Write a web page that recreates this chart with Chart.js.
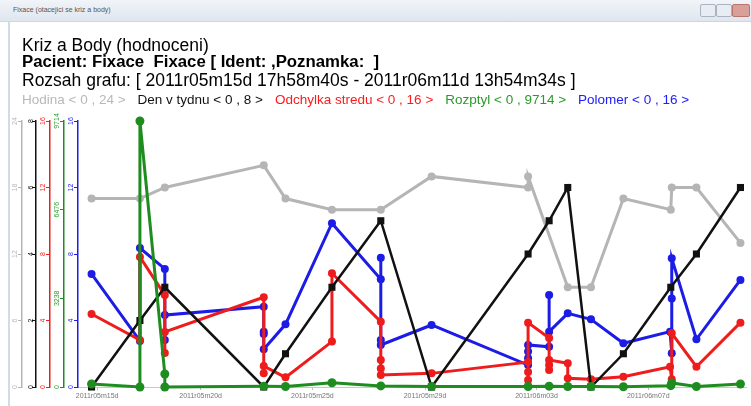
<!DOCTYPE html>
<html>
<head>
<meta charset="utf-8">
<title>Kriz a Body</title>
<script src="https://cdn.jsdelivr.net/npm/chart.js@4.4.1/dist/chart.umd.min.js"></script>
<style>
    html, body { margin: 0; padding: 0; background: #fff; }
    body { width: 751px; height: 406px; position: relative; overflow: hidden; font-family: "Liberation Sans", Arial, sans-serif; }
    #graf { position: absolute; left: 0; top: 0; }
    .lista { position: absolute; left: 0; top: 0; width: 751px; height: 21px; background: linear-gradient(#f1f4f8, #dfe6ee); border-bottom: 1px solid #cdd6e1; }
    .lista span { position: absolute; left: 13px; top: 6px; font-size: 7px; color: #555; }
    .lista i { position: absolute; top: 4px; height: 11px; border: 1px solid #aab4c0; border-radius: 2px; background: #e8edf3; }
    .okraj { position: absolute; left: 8px; top: 22px; width: 2px; height: 384px; background: #cfdcea; }
    .head { position: absolute; left: 22px; white-space: pre; color: #000; line-height: 18px; }
    #legenda span { margin-right: 12px; }
</style>
</head>
<body>
<div class="lista"><span>Fixace (otacejici se kriz a body)</span><i style="left:700px;width:14px"></i><i style="left:716px;width:14px"></i><i style="left:732px;width:16px;background:#d9a09a;border-color:#b9756d"></i></div>
<div class="okraj"></div>
<canvas id="graf" width="751" height="406"></canvas>
<div class="head" style="top:36px;font-size:17.5px">Kriz a Body (hodnoceni)</div>
<div class="head" style="top:53px;font-size:16.8px;font-weight:bold">Pacient: Fixace  Fixace [ Ident: ,Poznamka:  ]</div>
<div class="head" style="top:71px;font-size:17.5px">Rozsah grafu: [ 2011r05m15d 17h58m40s - 2011r06m11d 13h54m34s ]</div>
<div class="head" id="legenda" style="top:91px;font-size:13.5px"></div>

<script>
// cas = den v kvetnu (1. cerven = 32), hodnota
const hodina = [
    [15.75, 17], [17.75, 17], [18.78, 18], [22.87, 20], [23.77, 17], [25.69, 16], [27.71, 16],
    [29.81, 19], [33.80, 18], [33.80, 19], [35.44, 9], [36.40, 9], [37.74, 17], [39.70, 16],
    [39.74, 18], [40.76, 18], [42.58, 13]
];
const denVTydnu = [
    [15.75, 0], [17.75, 2], [18.78, 3], [22.87, 0], [23.77, 1], [25.69, 3], [27.71, 5], [29.81, 0],
    [33.80, 4], [34.67, 5], [35.44, 6], [36.40, 0], [37.74, 1], [39.70, 3], [40.76, 4], [42.58, 6]
];
const odchylka = [
    [15.75, 4.39], [17.75, 2.83], [17.75, 7.82], [18.78, 5.53], [18.78, 2.04], [18.78, 3.31],
    [22.87, 5.4], [22.87, 0.82], [22.87, 1.26], [23.77, 0.58], [25.69, 2.73], [25.69, 6.84],
    [27.71, 3.93], [27.71, 1.62], [27.71, 1.12], [27.71, 0.72], [29.81, 0.82],
    [33.80, 1.5], [33.80, 0.42], [33.80, 0.9], [33.80, 3.87], [34.67, 2.95], [34.67, 1.02],
    [34.67, 1.32], [34.67, 1.62], [35.44, 1.43], [35.44, 0.52], [36.40, 0.46], [37.74, 0.62],
    [39.67, 1.22], [39.74, 0.46], [39.74, 3.23], [40.76, 1.22], [42.58, 3.87]
];
const rozptyl = [
    [15.75, 110], [17.75, 0], [17.75, 9714], [18.78, 475], [18.78, 0], [22.87, 30], [23.77, 20],
    [25.69, 157], [27.71, 40], [29.81, 20], [33.80, 20], [34.67, 30], [35.44, 20], [36.40, 20],
    [37.74, 10], [39.70, 50], [39.74, 150], [40.76, 20], [42.58, 110]
];
const polomer = [
    [15.75, 6.8], [17.75, 2.77], [17.75, 8.36], [18.78, 7.1], [18.78, 2.83], [18.78, 4.33],
    [22.87, 4.83], [22.87, 3.33], [22.87, 3.19], [22.87, 2.27], [23.77, 3.77], [25.69, 9.85],
    [27.71, 6.48], [27.71, 7.78], [27.71, 2.83], [27.71, 2.53], [29.81, 3.73],
    [33.80, 1.32], [33.80, 1.73], [33.80, 2.13], [33.80, 2.53], [34.67, 2.42], [34.67, 5.53],
    [34.67, 3.33], [35.44, 4.43], [36.40, 4.07], [37.74, 2.63], [39.67, 3.33], [39.74, 2.03],
    [39.74, 5.33], [39.74, 7.74], [40.76, 2.87], [42.58, 6.44]
];

const nazvy = ['Hodina', 'Den v tydnu', 'Odchylka stredu', 'Rozptyl', 'Polomer'];
const maxima = [24, 8, 16, 9714, 16];
const kroky = [6, 2, 4, 3238, 4];
const tickDny = [15.98, 20.26, 24.88, 29.54, 34.15, 38.77];
const tickPopisky = ['2011r05m15d', '2011r05m20d', '2011r05m25d', '2011r05m29d', '2011r06m03d', '2011r06m07d'];

const barvy = ['#b5b5b5', '#111111', '#ee1c1c', '#1e8c1e', '#1c1ce6'];
const barvyTextu = ['#b8b8b8', '#111111', '#ff1a1a', '#2a9a2a', '#2020ff'];

const Graf = {
    init: () => {
        Graf.legenda();
        Graf.kresli();
    },

    legenda: () => {
        const el = document.getElementById('legenda');
        el.innerHTML = nazvy.map((n, i) =>
            `<span style="color:${barvyTextu[i]}">${n} &lt; 0 , ${maxima[i]} &gt;</span>`
        ).join('');
    },

    osaY: (i, padding) => ({
        type: 'linear',
        position: 'left',
        min: 0,
        max: maxima[i],
        weight: 5 - i,
        ticks: {
            stepSize: kroky[i],
            autoSkip: false,
            color: barvyTextu[i],
            font: { size: 7, family: '"Liberation Sans", Arial' },
            minRotation: 90,
            maxRotation: 90,
            crossAlign: 'center',
            padding: padding,
            callback: v => String(v)
        },
        grid: { drawOnChartArea: false, tickLength: 4, color: barvy[i], lineWidth: 1 },
        border: { color: barvy[i], width: 1.5 },
        afterFit: s => { s.width = 14; }
    }),

    kresli: () => {
        const ctx = document.getElementById('graf').getContext('2d');
        const serie = [hodina, denVTydnu, odchylka, rozptyl, polomer];
        const osy = ['yH', 'yD', 'yO', 'yR', 'yP'];
        const poradi = [5, 2, 3, 1, 4];
        const polomery = [4, 5, 4, 4.5, 4];

        const datasets = serie.map((s, i) => ({
            label: nazvy[i],
            data: s.map(([x, y]) => ({ x, y })),
            yAxisID: osy[i],
            borderColor: barvy[i],
            backgroundColor: barvy[i],
            borderWidth: i === 1 ? 2.5 : 3,
            pointRadius: polomery[i],
            pointStyle: i === 1 ? 'rect' : 'circle',
            pointBorderWidth: 0,
            tension: 0,
            order: poradi[i],
            clip: false
        }));

        const scales = {
            x: {
                type: 'linear',
                min: 15.19,
                max: 42.81,
                afterBuildTicks: s => { s.ticks = tickDny.map(v => ({ value: v })); },
                ticks: {
                    autoSkip: false,
                    maxRotation: 0,
                    color: '#777',
                    padding: 2,
                    font: { size: 7, family: '"Liberation Sans", Arial' },
                    callback: (v, i) => tickPopisky[i]
                },
                grid: { drawOnChartArea: false, tickLength: 3, color: '#bbb' },
                border: { color: '#c8c8c8', width: 1 },
                afterFit: s => { s.height = 19; }
            }
        };
        osy.forEach((id, i) => {
            scales[id] = Graf.osaY(i, i === 3 ? -4.8 : -0.9);
        });

        new Chart(ctx, {
            type: 'line',
            data: { datasets },
            options: {
                responsive: false,
                animation: false,
                devicePixelRatio: 1,
                layout: { padding: { left: 8, top: 121, right: 3, bottom: 0 } },
                plugins: {
                    legend: { display: false },
                    tooltip: { enabled: false }
                },
                scales
            }
        });
    }
};

Graf.init();
</script>
</body>
</html>
